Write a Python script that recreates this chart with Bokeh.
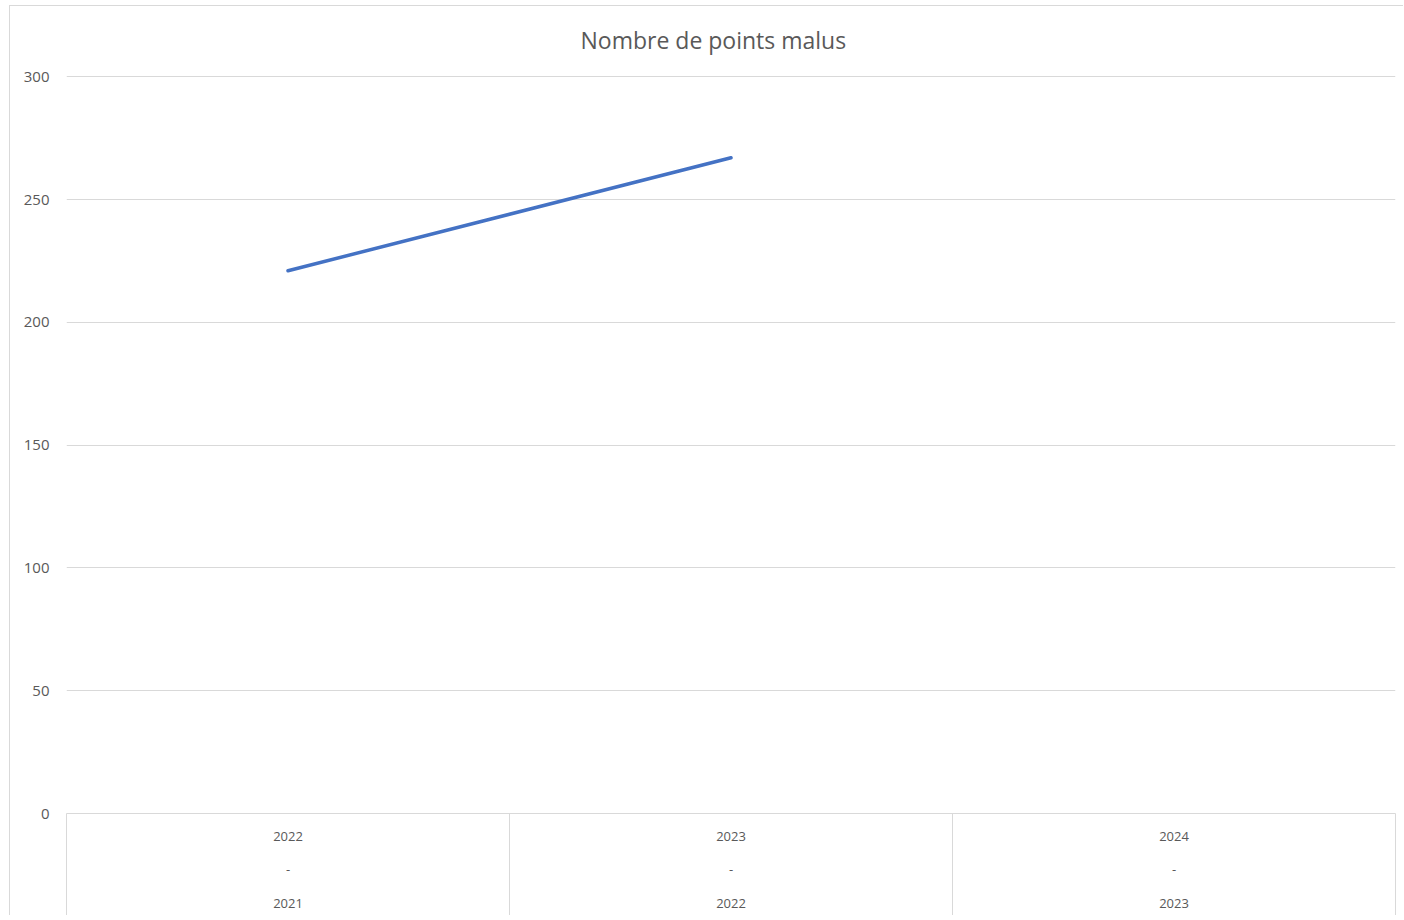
from bokeh.plotting import figure
from bokeh.models import Range1d, FixedTicker, Title
from bokeh.embed import file_html
from bokeh.resources import INLINE

# ---- data ----
categories = ["2022\n-\n2021", "2023\n-\n2022", "2024\n-\n2023"]
points_malus = [221, 267, float("nan")]
y_ticks = [0, 50, 100, 150, 200, 250, 300]
title_text = "Nombre de points malus"

FONT = "Open Sans"
TXT = "#595959"
GRID = "#d9d9d9"

n = len(categories)
xs = [i + 0.5 for i in range(n)]

p = figure(width=1394, height=910, output_backend="svg", toolbar_location=None,
           x_range=Range1d(0, n), y_range=Range1d(y_ticks[0], y_ticks[-1] + 0.5),
           min_border_left=56, min_border_right=9, min_border_top=69, min_border_bottom=103)
p.outline_line_color = None
p.background_fill_color = "white"
p.border_fill_color = "white"
p.styles = {"margin-left": "9px", "margin-top": "5px",
            "border-left": "1px solid #d9d9d9", "border-top": "1px solid #d9d9d9"}

p.title = Title(text=title_text, align="left", vertical_align="top", text_font=FONT,
                text_font_size="23px", text_font_style="normal", text_color=TXT,
                offset=514, standoff=35)

# y axis
ya = p.yaxis[0]
ya.ticker = FixedTicker(ticks=y_ticks)
ya.axis_line_color = None
ya.major_tick_line_color = None
ya.minor_tick_line_color = None
ya.major_tick_out = 0
ya.major_label_standoff = 17
ya.major_label_text_font = FONT
ya.major_label_text_font_size = "15px"
ya.major_label_text_color = TXT

# x axis: category labels with separators
xa = p.xaxis[0]
xa.ticker = FixedTicker(ticks=xs, minor_ticks=list(range(n + 1)))
xa.major_label_overrides = {x: c for x, c in zip(xs, categories)}
xa.axis_line_color = GRID
xa.axis_line_width = 1
xa.major_tick_line_color = None
xa.major_tick_out = 0
xa.minor_tick_line_color = GRID
xa.minor_tick_out = 103
xa.minor_tick_in = 0
xa.major_label_standoff = -90
xa.major_label_text_font = FONT
xa.major_label_text_font_size = "13px"
xa.major_label_text_color = TXT
xa.major_label_text_line_height = 1.875

p.xgrid.grid_line_color = None
p.ygrid.grid_line_color = GRID
p.ygrid.grid_line_width = 1
p.ygrid.ticker = FixedTicker(ticks=y_ticks[1:])

p.line(xs, points_malus, line_color="#4472C4", line_width=3.5, line_cap="round")

open("out.html", "w").write(file_html(p, INLINE))
